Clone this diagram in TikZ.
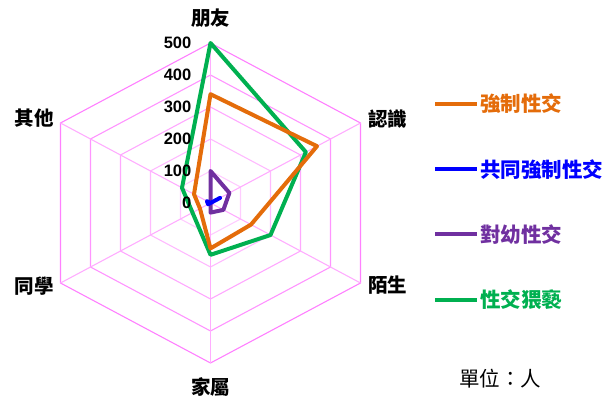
\documentclass[tikz,border=0pt]{standalone}
\usepackage{fontspec}
\setmainfont{Liberation Sans}
\newfontfamily\cjk{Noto Sans CJK TC}
\definecolor{rapeorange}{RGB}{228,108,10}
\definecolor{gangblue}{RGB}{0,0,255}
\definecolor{childpurple}{RGB}{112,48,160}
\definecolor{molestgreen}{RGB}{0,176,80}
\definecolor{gridpink}{RGB}{255,0,255}
\tikzstyle{ring}=[line width=1.1pt]
\tikzstyle{series}=[line width=4pt,line join=round]
\tikzstyle{keyline}=[line width=4pt]
\tikzstyle{axislabel}=[font=\cjk\bfseries\fontsize{19.5}{19.5}\selectfont,inner sep=0]
\tikzstyle{keylabel}=[font=\cjk\bfseries\fontsize{20.5}{20.5}\selectfont,inner sep=3pt,anchor=west]
\tikzstyle{tick}=[font=\bfseries\fontsize{16.5}{16.5}\selectfont,anchor=east,inner sep=0]
\newcommand{\radarline}[7]{\draw[series,#1] (90:{#2*0.32}) -- (30:{#3*0.32}) -- (-30:{#4*0.32}) -- (-90:{#5*0.32}) -- (-150:{#6*0.32}) -- (150:{#7*0.32}) -- cycle;}

\begin{document}
\begin{tikzpicture}[x=1pt,y=1pt]
\useasboundingbox (0,0) rectangle (603,396);

\begin{scope}[shift={(210.5,193)},xscale=1.0825]
\foreach \r/\c in {1/20,2/27,3/34,4/42,5/50}{
	\draw[ring,gridpink!\c] (90:32*\r) -- (30:32*\r) -- (-30:32*\r) -- (-90:32*\r) -- (-150:32*\r) -- (150:32*\r) -- cycle;}
\foreach \a in {90,30,-30,-90,-150,150}{
	\draw[ring,gridpink!32] (0,0) -- (\a:160);}

\radarline{molestgreen}{500}{318}{200}{162}{60}{95}
\radarline{rapeorange}{340}{355}{135}{142}{35}{55}
\radarline{childpurple}{100}{63}{43}{30}{0}{0}
\radarline{gangblue}{0}{32}{0}{0}{8}{12}
\end{scope}

\foreach \v in {0,100,...,500}{
	\node[tick] (tick\v) at (191.5,193+0.32*\v) {\v};}

\node[axislabel] (friend) at (210.7,378) {朋友};
\node[axislabel,anchor=west] (acquaint) at (368,276.7) {認識};
\node[axislabel,anchor=west] (stranger) at (368,111) {陌生};
\node[axislabel] (family) at (210.7,9.3) {家屬};
\node[axislabel,anchor=east] (classmate) at (54,110) {同學};
\node[axislabel,anchor=east] (others) at (54,277.7) {其他};

\foreach \y/\col/\txt/\n in {292/rapeorange/強制性交/a,226.7/gangblue/共同強制性交/b,161.7/childpurple/對幼性交/c,96/molestgreen/性交猥褻/d}{
	\coordinate (keystart\n) at (435,\y);
	\node[keylabel,text=\col] (key\n) at (477,\y) {\txt};
	\draw[keyline,\col] (keystart\n) -- (key\n.west);}

\node[font=\cjk\fontsize{20.5}{20.5}\selectfont,inner sep=0] (unit) at (500,17) {單位：人};
\end{tikzpicture}
\end{document}
